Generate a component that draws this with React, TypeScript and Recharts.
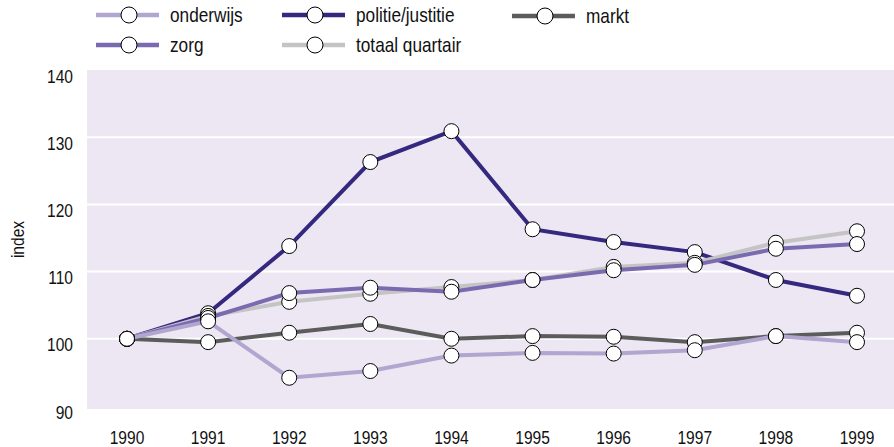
import React from 'react';
import { LineChart, Line, XAxis, YAxis, CartesianGrid } from 'recharts';

const years = ['1990', '1991', '1992', '1993', '1994', '1995', '1996', '1997', '1998', '1999'];
const onderwijs = [100, 102.6, 94.2, 95.2, 97.5, 97.9, 97.8, 98.3, 100.4, 99.5];
const zorg = [100, 103.1, 106.8, 107.6, 107.0, 108.75, 110.2, 111.0, 113.4, 114.1];
const politie = [100, 103.8, 113.8, 126.3, 130.9, 116.3, 114.4, 112.9, 108.75, 106.4];
const totaal = [100, 103.4, 105.5, 106.7, 107.7, 108.75, 110.7, 111.3, 114.3, 116.0];
const markt = [100, 99.5, 100.9, 102.2, 100.0, 100.4, 100.3, 99.5, 100.4, 100.9];
const yTicks = [90, 100, 110, 120, 130, 140];

const data = years.map((year, i) => ({
  year,
  onderwijs: onderwijs[i],
  zorg: zorg[i],
  politie: politie[i],
  totaal: totaal[i],
  markt: markt[i],
}));

// Arial Narrow look: Liberation Sans squeezed horizontally
const FONT = "'Liberation Sans', Arial, sans-serif";
const SQUEEZE = 0.82;

const series = [
  { key: 'politie', name: 'politie/justitie', color: '#35287f' },
  { key: 'markt', name: 'markt', color: '#5c5c5c' },
  { key: 'totaal', name: 'totaal quartair', color: '#c4c4c4' },
  { key: 'zorg', name: 'zorg', color: '#7a6bb0' },
  { key: 'onderwijs', name: 'onderwijs', color: '#b0a6cf' },
];

// legend slot per series key: [x of line start, y of row]
const legendPos: Record<string, [number, number]> = {
  onderwijs: [96, 15],
  zorg: [96, 45],
  politie: [282, 15],
  totaal: [282, 45],
  markt: [512, 16],
};

function NarrowText({ x, y, anchor, size, children }: any) {
  return (
    <text
      transform={`translate(${x},${y}) scale(${SQUEEZE},1)`}
      textAnchor={anchor}
      dy="0.35em"
      fontSize={size}
      fontFamily={FONT}
      fill="#111"
    >
      {children}
    </text>
  );
}

function LegendBox() {
  return (
    <svg width={894} height={62} style={{ position: 'absolute', left: 0, top: 0 }}>
      {series.map((s) => {
        const [x, y] = legendPos[s.key];
        return (
          <g key={s.key}>
            <line x1={x} y1={y} x2={x + 63} y2={y} stroke={s.color} strokeWidth={4.5} />
            <circle cx={x + 33} cy={y} r={8} fill="#fff" stroke="#000" strokeWidth={1} />
            <NarrowText x={x + 74} y={y} anchor="start" size={21}>
              {s.name}
            </NarrowText>
          </g>
        );
      })}
    </svg>
  );
}

function YTick(props: any) {
  const { x, y, payload } = props;
  return (
    <NarrowText x={x} y={y + 6} anchor="end" size={19}>
      {payload.value}
    </NarrowText>
  );
}

function XTick(props: any) {
  const { x, y, payload } = props;
  return (
    <NarrowText x={x} y={y + 9} anchor="middle" size={19}>
      {payload.value}
    </NarrowText>
  );
}

function YLabel(props: any) {
  const vb = props.viewBox || {};
  const cy = (vb.y || 70) + (vb.height || 339) / 2;
  return (
    <text
      transform={`translate(17,${cy}) rotate(-90) scale(${SQUEEZE},1)`}
      textAnchor="middle"
      dy="0.35em"
      fontSize={19}
      fontFamily={FONT}
      fill="#111"
    >
      index
    </text>
  );
}

export default function App() {
  return (
    <div style={{ position: 'absolute', left: 0, top: 0, width: 894, height: 447, background: '#fff' }}>
      <LineChart width={894} height={447} data={data} margin={{ top: 70, right: 0, left: 0, bottom: 0 }}>
        <CartesianGrid
          fill="#ece7f2"
          vertical={false}
          stroke="#ffffff"
          strokeWidth={2}
          horizontalValues={[100, 110, 120, 130]}
        />
        <XAxis
          dataKey="year"
          height={38}
          axisLine={false}
          tickLine={false}
          tickSize={0}
          tickMargin={19}
          padding={{ left: 40, right: 37 }}
          tick={<XTick />}
          interval={0}
        />
        <YAxis
          width={87}
          domain={[89.55, 140]}
          ticks={yTicks}
          allowDataOverflow
          axisLine={false}
          tickLine={false}
          tickSize={0}
          tickMargin={14}
          tick={<YTick />}
          label={<YLabel />}
        />
        {series.map((s) => (
          <Line
            key={s.key}
            dataKey={s.key}
            name={s.name}
            stroke={s.color}
            strokeWidth={4}
            dot={{ r: 7.5, fill: '#fff', stroke: '#000', strokeWidth: 1 }}
            activeDot={false}
            isAnimationActive={false}
          />
        ))}
      </LineChart>
      <LegendBox />
    </div>
  );
}
